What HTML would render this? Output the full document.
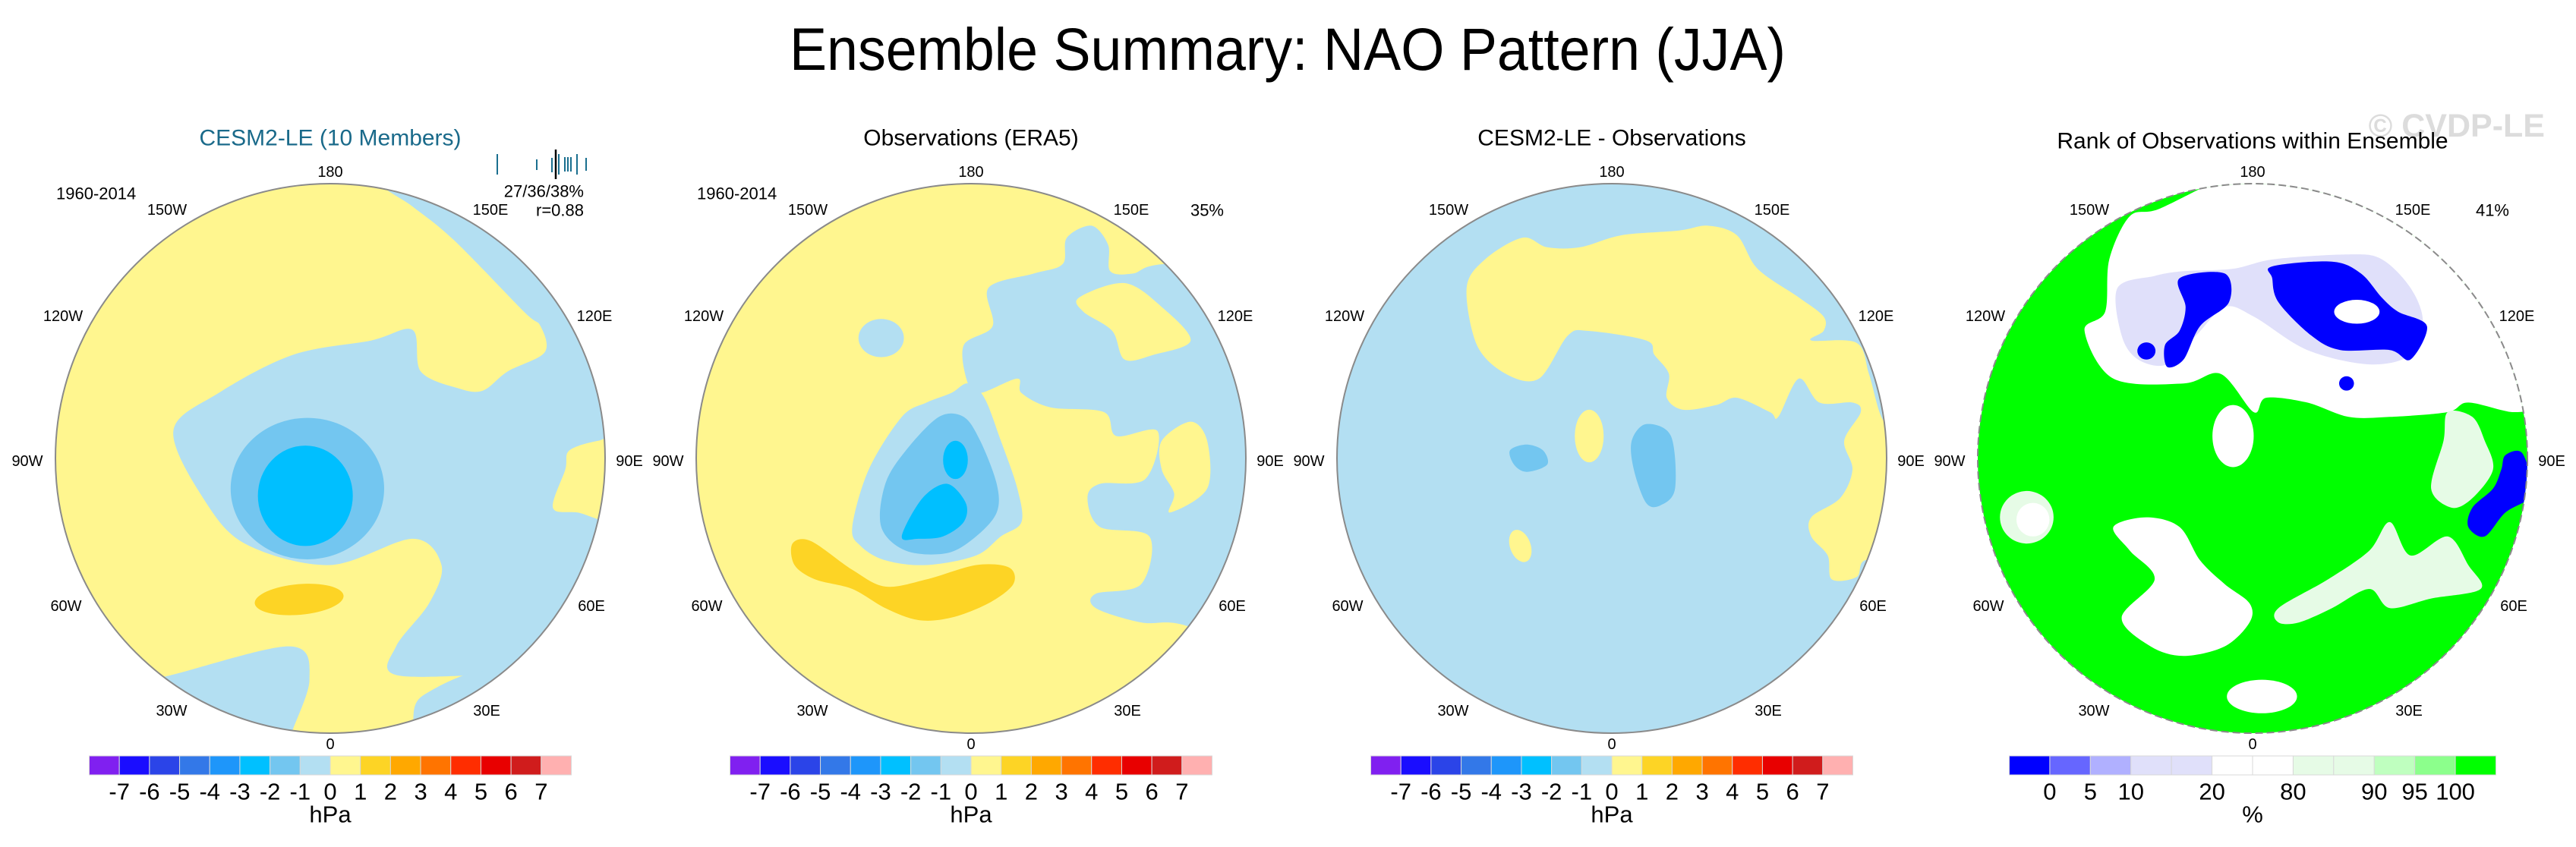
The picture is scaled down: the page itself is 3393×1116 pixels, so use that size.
<!DOCTYPE html>
<html><head><meta charset="utf-8">
<style>
html,body{margin:0;padding:0;background:#fff;}
svg{display:block;font-family:"Liberation Sans",Arial,sans-serif;}
</style></head>
<body>
<svg id="fig" width="3393" height="1116" viewBox="0 0 3393 1116" xmlns="http://www.w3.org/2000/svg">
<rect width="3393" height="1116" fill="#fff"/>
<text x="1696" y="92" font-size="79" text-anchor="middle" textLength="1312" lengthAdjust="spacingAndGlyphs" fill="#000">Ensemble Summary: NAO Pattern (JJA)</text>
<text x="3352" y="180" font-size="43" font-weight="bold" text-anchor="end" fill="#dcdcdc">© CVDP-LE</text>
<g id="panels"></g>
</svg>
<script>
// colorbar data
const hpaLevels = [-7,-6,-5,-4,-3,-2,-1,0,1,2,3,4,5,6,7];
const hpaColors = ["#8020f0","#1a0dff","#2b44e8","#3378e8","#1e96fa","#00c0ff","#73c6f0","#b3dff2","#fff68f","#fdd425","#ffa800","#ff7400","#ff2d00","#e80000","#d01c1c","#ffb0b0"];
const rankLevels = ["0","5","10","","20","","80","","90","95","100"];
const rankColors = ["#0000ff","#6666ff","#b0b0ff","#e0e0fa","#e0e0fa","#ffffff","#ffffff","#e6fbe6","#e6fbe6","#bfffbf","#8cff8c","#00ff00"];
const panelTitles = ["CESM2-LE (10 Members)","Observations (ERA5)","CESM2-LE - Observations","Rank of Observations within Ensemble"];
const panelCx = [435,1279,2123,2967];
const zoomOx = [0,840,1690,2550];
const cy = 604, R = 362;
const NS = "http://www.w3.org/2000/svg";
const root = document.getElementById('panels');

function mk(tag, attrs, parent){
  const e = document.createElementNS(NS, tag);
  for (const k in attrs) e.setAttribute(k, attrs[k]);
  (parent||root).appendChild(e);
  return e;
}
function txt(parent, x, y, s, size, anchor, fill, name){
  const t = mk('text',{x:x,y:y,'font-size':size,'text-anchor':anchor||'middle',fill:fill||'#000','dominant-baseline':'central'},parent);
  
  
  t.textContent = s;
  return t;
}
function smoothPath(p, pts){
  const P = pts.map(q => [zoomOx[p] + q[0]/1.84, 140 + q[1]/1.588]);
  const n = P.length;
  let d = 'M'+P[0][0].toFixed(1)+','+P[0][1].toFixed(1);
  for (let k=0;k<n;k++){
    const p0=P[(k-1+n)%n], p1=P[k], p2=P[(k+1)%n], p3=P[(k+2)%n];
    const t=0.16;
    const c1=[p1[0]+(p2[0]-p0[0])*t, p1[1]+(p2[1]-p0[1])*t];
    const c2=[p2[0]-(p3[0]-p1[0])*t, p2[1]-(p3[1]-p1[1])*t];
    d+=' C'+c1[0].toFixed(1)+','+c1[1].toFixed(1)+' '+c2[0].toFixed(1)+','+c2[1].toFixed(1)+' '+p2[0].toFixed(1)+','+p2[1].toFixed(1);
  }
  return d+'Z';
}
function poly(g, p, pts, color, name){
  const e = mk('path',{d:smoothPath(p,pts),fill:color},g);
  
  
}
function ell(g, p, zx, zy, rx, ry, color, name, rot){
  const X = zoomOx[p] + zx/1.84, Y = 140 + zy/1.588;
  const e = mk('ellipse',{cx:X,cy:Y,rx:rx/1.84,ry:ry/1.588,fill:color},g);
  if (rot) e.setAttribute('transform','rotate('+rot+' '+X+' '+Y+')');
  
  
}

const LB="#b3dff2", YE="#fff68f", MB="#73c6f0", DB="#00bfff", OR="#fdd425";
const GR="#00ff00", PG="#e6fbe6", LV="#e0e0fa", BL="#0000ff";

const defs = mk('defs',{});
panelCx.forEach((cx,i)=>{
  const cp = mk('clipPath',{id:'clip'+i},defs);
  mk('circle',{cx:cx,cy:cy,r:R},cp);
});

function drawPanel(i){
  const cx = panelCx[i];
  const g = mk('g',{});
  
  
  const m = mk('g',{'clip-path':'url(#clip'+i+')'},g);
  
  
  if (i===0){
    mk('rect',{x:cx-R,y:cy-R,width:2*R,height:2*R,fill:YE},m);
    poly(m,0,[[920,160],[1000,210],[1100,280],[1270,430],[1310,460],[1320,515],[1230,555],[1170,595],[1110,590],[1020,555],[1000,468],[900,490],[710,520],[530,600],[420,680],[500,830],[600,918],[800,960],[1000,905],[1070,960],[1040,1040],[960,1130],[960,1190],[1220,1190],[1500,1200],[1500,100],[920,100]],LB,'negative-region');
    poly(m,0,[[1030,1230],[1000,1300],[1000,1400],[1400,1400],[1220,1190]],LB,'negative-region-south');
    poly(m,0,[[300,1195],[390,1195],[700,1130],[750,1200],[700,1330],[700,1400],[300,1400]],LB,'negative-region-sw');
    poly(m,0,[[1340,840],[1370,760],[1380,720],[1450,700],[1500,700],[1500,860],[1400,850]],YE,'positive-blob-east');
    ell(m,0,745,800,186,148,MB,'medium-negative');
    ell(m,0,740,815,115,105,DB,'strong-negative');
    ell(m,0,725,1032,108,32,OR,'positive-core',-5);
  } else if (i===1){
    mk('rect',{x:cx-R,y:cy-R,width:2*R,height:2*R,fill:YE},m);
    poly(m,1,[[790,500],[860,460],[850,380],[960,350],[1030,330],[1040,275],[1100,250],[1140,290],[1145,345],[1200,350],[1280,330],[1600,330],[1600,1200],[1340,1090],[1220,1080],[1110,1050],[1110,1020],[1220,1000],[1240,900],[1120,880],[1090,820],[1120,790],[1230,780],[1260,680],[1160,690],[1130,640],[1000,630],[930,600],[920,570],[830,600],[800,580]],LB,'negative-region-asia');
    poly(m,1,[[1070,400],[1180,370],[1270,420],[1340,490],[1250,520],[1180,530],[1150,470],[1080,430]],YE,'positive-strip-asia');
    poly(m,1,[[1270,700],[1340,660],[1380,700],[1380,800],[1290,850],[1300,810],[1270,760]],YE,'positive-blob-east');
    poly(m,1,[[520,880],[560,760],[640,650],[700,620],[760,600],[800,580],[840,610],[880,700],[920,800],[930,870],[880,900],[820,940],[700,960],[600,950],[540,920]],LB,'negative-region-arctic');
    poly(m,1,[[590,880],[600,790],[650,720],[730,650],[790,650],[830,700],[870,790],[870,850],[820,900],[750,935],[650,930]],MB,'medium-negative');
    ell(m,1,770,740,30,40,DB,'strong-negative-1');
    poly(m,1,[[640,900],[690,820],[750,790],[795,830],[790,870],[740,900],[680,905]],DB,'strong-negative-2');
    ell(m,1,590,485,55,40,LB,'negative-blob-alaska');
    poly(m,1,[[375,915],[420,910],[520,970],[600,1005],[700,990],[820,960],[900,965],[910,1000],[850,1040],[760,1070],[680,1075],[600,1050],[520,1010],[430,990],[380,960]],OR,'positive-band');
  } else if (i===2){
    mk('rect',{x:cx-R,y:cy-R,width:2*R,height:2*R,fill:LB},m);
    poly(m,2,[[445,380],[490,320],[580,275],[640,295],[720,295],[820,270],[960,260],[1030,250],[1100,270],[1150,340],[1250,400],[1310,440],[1310,470],[1280,490],[1390,495],[1420,560],[1450,650],[1500,720],[1500,950],[1410,950],[1390,985],[1330,990],[1320,940],[1280,900],[1280,860],[1350,820],[1380,760],[1360,700],[1400,640],[1380,620],[1300,620],[1250,570],[1200,650],[1180,640],[1100,610],[1050,625],[970,635],[930,610],[935,560],[900,520],[880,490],[740,470],[690,480],[620,570],[540,560],[470,500]],YE,'positive-region');
    ell(m,2,742,690,35,55,YE,'positive-blob-pole');
    ell(m,2,575,920,25,35,YE,'positive-blob-labrador',-20);
    poly(m,2,[[845,700],[880,665],[940,690],[950,800],[915,835],[880,830],[850,760]],MB,'negative-blob-scandinavia');
    poly(m,2,[[550,720],[590,708],[630,720],[640,750],[590,765],[560,750]],MB,'negative-blob-canada');
  } else {
    mk('rect',{x:cx-R-5,y:cy-R,width:2*R+10,height:2*R,fill:GR},m);
    poly(m,3,[[470,230],[540,215],[700,150],[800,140],[1000,180],[1200,240],[1380,420],[1420,520],[1450,620],[1400,640],[1290,620],[1240,640],[1100,650],[1000,650],[900,620],[800,610],[770,640],[690,560],[600,580],[430,570],[360,470],[410,430],[420,320]],"#ffffff",'rank-20-80-north');
    poly(m,3,[[440,380],[530,355],[600,345],[720,340],[820,320],[1000,310],[1080,320],[1150,380],[1180,450],[1150,520],[1050,540],[900,510],[770,440],[700,420],[630,480],[560,540],[490,530],[450,480]],LV,'rank-10-20');
    poly(m,3,[[590,360],[700,350],[710,410],[640,460],[600,530],[560,545],[555,500],[590,470],[605,420]],BL,'rank-below-0-a');
    ell(m,3,510,512,22,18,BL,'rank-below-0-b');
    poly(m,3,[[815,335],[960,325],[1030,350],[1080,400],[1120,430],[1190,460],[1150,530],[1100,510],[980,510],[910,480],[830,410],[815,360]],BL,'rank-below-0-c');
    ell(m,3,1020,430,55,25,"#ffffff",'rank-mid-hole');
    ell(m,3,995,580,18,15,BL,'rank-below-0-d');
    poly(m,3,[[1380,730],[1420,725],[1445,790],[1440,820],[1380,850],[1330,900],[1290,880],[1300,840],[1350,800],[1370,760]],BL,'rank-below-0-east');
    ell(m,3,720,690,50,65,"#ffffff",'rank-mid-pole');
    poly(m,3,[[1240,640],[1300,650],[1330,700],[1350,760],[1300,820],[1250,840],[1200,800],[1230,700]],PG,'rank-80-90-east');
    poly(m,3,[[430,880],[510,860],[590,880],[640,950],[700,1000],[760,1040],[760,1080],[700,1130],[600,1150],[520,1130],[450,1070],[530,990],[470,930]],"#ffffff",'rank-mid-atlantic');
    poly(m,3,[[830,1050],[950,990],[1050,930],[1100,870],[1150,940],[1240,900],[1290,960],[1320,1010],[1200,1030],[1100,1050],[1050,1010],[960,1050],[880,1080],[830,1080]],PG,'rank-80-90-eurasia');
    ell(m,3,220,860,65,55,PG,'rank-80-90-west');
    ell(m,3,235,865,40,35,"#ffffff",'rank-mid-west');
    ell(m,3,790,1235,85,35,"#ffffff",'rank-mid-africa');
  }
  const c = mk('circle',{cx:cx,cy:cy,r:R,fill:'none',stroke:'#8a8a8a','stroke-width':2},g);
  if (i===3) c.setAttribute('stroke-dasharray','10 5');
  
  

  const lon = [["180",0,-377],["150W",-215,-327],["150E",211,-327],["120W",-352,-187],["120E",348,-187],["90W",-399,4],["90E",394,4],["60W",-348,195],["60E",344,195],["30W",-209,333],["30E",206,333],["0",0,377]];
  lon.forEach(l => txt(g, cx+l[1], cy+l[2], l[0], 20, 'middle', '#000', 'longitude-label'));

  txt(g, cx, i===3?186:182, panelTitles[i], 30, 'middle', i===0?'#1a6a8a':'#000', 'panel-title');
  if (i<2) txt(g, cx-361, 255, "1960-2014", 22, 'start', '#000', 'period-label');
  if (i===0){
    txt(g, cx+334, 252, "27/36/38%", 22, 'end', '#000', 'pattern-stats');
    txt(g, cx+334, 277, "r=0.88", 22, 'end', '#000', 'pattern-correlation');
    [[655,203,230,2],[707,210,224,2],[727,208,227,2],[736,203,230,2],[744,207,226,2],[748,207,226,2],[752,207,226,2],[760,203,230,2],[772,208,225,2]].forEach(b=>{
      const t = mk('line',{x1:b[0],x2:b[0],y1:b[1],y2:b[2],stroke:'#1a6f8f','stroke-width':b[3]},g);
      
      
    });
    const bl = mk('line',{x1:732,x2:732,y1:197,y2:236,stroke:'#000','stroke-width':2.5},g);
    
    
  }
  if (i===1) txt(g, cx+333, 277, "35%", 22, 'end', '#000', 'variance-label');
  if (i===3) txt(g, cx+338, 277, "41%", 22, 'end', '#000', 'rank-percent-label');

  const cb = mk('g',{},g);
  
  
  const cols = i===3 ? rankColors : hpaColors;
  const labs = i===3 ? rankLevels : hpaLevels;
  const W = i===3 ? 641 : 635;
  const x0 = cx - W/2, bw = W/cols.length;
  cols.forEach((col,k)=>{
    const r = mk('rect',{x:x0+k*bw,y:996,width:bw,height:25,fill:col,stroke:'#d8d8d8','stroke-width':1},cb);
    
    
  });
  labs.forEach((lv,k)=>{
    if (lv==="") return;
    txt(cb, x0+(k+1)*bw, 1043, String(lv), 31, 'middle', '#000', 'colorbar-tick-label');
  });
  txt(cb, cx, 1073, i===3?"%":"hPa", 31, 'middle', '#000', 'colorbar-units');
}
for (let i=0;i<4;i++) drawPanel(i);
</script>
</body></html>
